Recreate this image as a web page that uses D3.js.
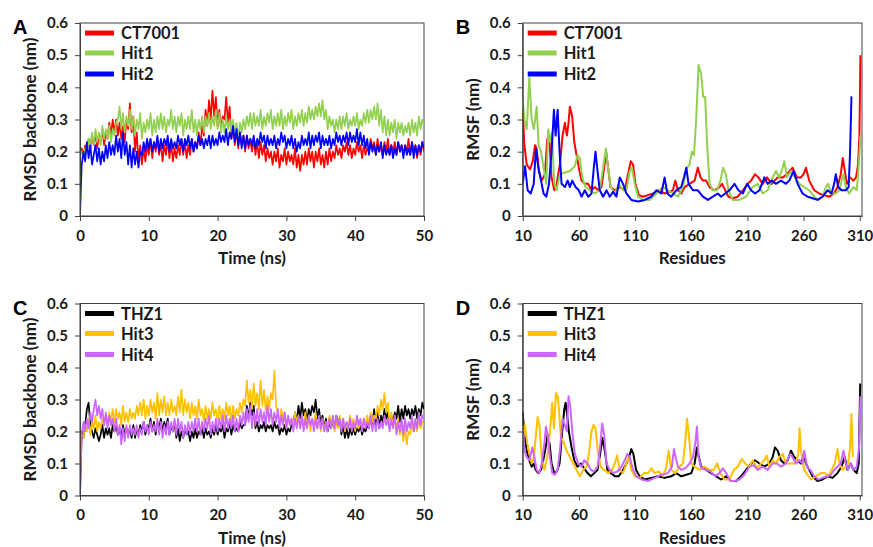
<!DOCTYPE html>
<html><head><meta charset="utf-8">
<script src="https://cdn.jsdelivr.net/npm/d3@7"></script>
<style>body{margin:0;background:#fff;} svg{display:block;}</style>
</head><body><svg id="c" width="873" height="547"></svg>
<script>
// ---------- DATA ----------
const rmsdTicksX = [0, 10, 20, 30, 40, 50];
const rmsfTicksX = [10, 60, 110, 160, 210, 260, 310];
const yTicks = [0, 0.1, 0.2, 0.3, 0.4, 0.5, 0.6];
const rmsdStep = 0.25; // ns between samples

const rmsdCT7001 = [
0.19,0.21,0.18,0.22, 0.20,0.24,0.21,0.25, 0.22,0.26,0.21,0.25, 0.23,0.27,0.22,0.26, 0.24,0.29,0.25,0.30,
0.26,0.30,0.25,0.29, 0.24,0.28,0.23,0.30, 0.27,0.35,0.26,0.31, 0.20,0.26,0.17,0.22, 0.16,0.21,0.17,0.22,
0.19,0.24,0.18,0.23, 0.20,0.24,0.19,0.23, 0.17,0.22,0.19,0.24, 0.18,0.23,0.17,0.21, 0.18,0.22,0.19,0.24,
0.19,0.23,0.18,0.22, 0.19,0.24,0.20,0.23, 0.21,0.26,0.22,0.28, 0.25,0.33,0.28,0.36, 0.30,0.39,0.31,0.37,
0.28,0.33,0.27,0.31, 0.30,0.37,0.29,0.34, 0.24,0.28,0.22,0.27, 0.21,0.26,0.22,0.25, 0.20,0.25,0.21,0.24,
0.20,0.24,0.19,0.23, 0.18,0.23,0.19,0.22, 0.17,0.21,0.18,0.20, 0.16,0.20,0.17,0.21, 0.15,0.19,0.17,0.21,
0.16,0.20,0.17,0.19, 0.16,0.21,0.15,0.19, 0.14,0.19,0.16,0.20, 0.16,0.21,0.17,0.20, 0.15,0.20,0.17,0.21,
0.16,0.19,0.15,0.20, 0.16,0.21,0.17,0.20, 0.18,0.22,0.19,0.21, 0.18,0.22,0.20,0.23, 0.19,0.22,0.18,0.21,
0.19,0.23,0.20,0.22, 0.18,0.22,0.19,0.21, 0.20,0.24,0.21,0.23, 0.19,0.24,0.20,0.22, 0.19,0.23,0.20,0.24,
0.19,0.22,0.20,0.23, 0.19,0.23,0.20,0.22, 0.19,0.22,0.20,0.24, 0.19,0.23,0.20,0.22, 0.18,0.22,0.19,0.23,
0.20];
const rmsdHit1 = [
0.19,0.20,0.18,0.21, 0.20,0.24,0.21,0.26, 0.22,0.27,0.23,0.26, 0.22,0.28,0.24,0.27, 0.24,0.28,0.23,0.27,
0.25,0.29,0.30,0.34, 0.27,0.32,0.26,0.31, 0.28,0.33,0.27,0.31, 0.25,0.30,0.27,0.32, 0.24,0.29,0.26,0.30,
0.27,0.32,0.25,0.30, 0.26,0.31,0.27,0.32, 0.27,0.31,0.26,0.30, 0.28,0.33,0.27,0.31, 0.26,0.31,0.28,0.32,
0.25,0.30,0.27,0.31, 0.27,0.33,0.26,0.30, 0.25,0.30,0.27,0.31, 0.26,0.31,0.28,0.32, 0.27,0.31,0.28,0.33,
0.27,0.32,0.26,0.30, 0.26,0.31,0.27,0.30, 0.26,0.30,0.25,0.29, 0.24,0.29,0.26,0.30, 0.27,0.31,0.28,0.32,
0.27,0.32,0.28,0.31, 0.28,0.33,0.27,0.31, 0.28,0.32,0.29,0.33, 0.27,0.31,0.28,0.32, 0.28,0.33,0.27,0.31,
0.28,0.32,0.29,0.33, 0.27,0.31,0.28,0.32, 0.29,0.33,0.28,0.32, 0.29,0.34,0.30,0.33, 0.30,0.34,0.31,0.35,
0.31,0.36,0.30,0.33, 0.27,0.31,0.28,0.30, 0.26,0.30,0.27,0.31, 0.27,0.31,0.28,0.32, 0.27,0.30,0.28,0.31,
0.28,0.32,0.27,0.30, 0.28,0.32,0.29,0.33, 0.29,0.33,0.30,0.34, 0.30,0.35,0.28,0.33, 0.26,0.31,0.25,0.30,
0.25,0.29,0.26,0.30, 0.24,0.29,0.26,0.29, 0.25,0.28,0.26,0.29, 0.25,0.30,0.26,0.29, 0.25,0.31,0.27,0.30,
0.28];
const rmsdHit2 = [
0.00,0.16,0.20,0.17, 0.23,0.18,0.22,0.16, 0.19,0.22,0.17,0.21, 0.16,0.20,0.17,0.22, 0.18,0.23,0.19,0.22,
0.19,0.25,0.20,0.24, 0.18,0.26,0.19,0.23, 0.16,0.22,0.15,0.21, 0.16,0.20,0.15,0.20, 0.19,0.23,0.20,0.24,
0.21,0.24,0.20,0.23, 0.21,0.25,0.20,0.24, 0.21,0.24,0.22,0.25, 0.20,0.24,0.21,0.23, 0.21,0.25,0.22,0.24,
0.20,0.24,0.22,0.25, 0.21,0.24,0.20,0.23, 0.21,0.25,0.22,0.24, 0.21,0.24,0.22,0.25, 0.21,0.25,0.22,0.24,
0.22,0.26,0.23,0.25, 0.23,0.27,0.22,0.26, 0.24,0.28,0.23,0.27, 0.22,0.26,0.21,0.25, 0.21,0.25,0.22,0.24,
0.22,0.25,0.21,0.24, 0.22,0.26,0.23,0.25, 0.21,0.25,0.22,0.24, 0.22,0.25,0.21,0.24, 0.22,0.26,0.23,0.25,
0.21,0.24,0.22,0.25, 0.21,0.24,0.20,0.23, 0.21,0.25,0.22,0.24, 0.22,0.26,0.21,0.25, 0.22,0.25,0.23,0.26,
0.21,0.25,0.22,0.24, 0.22,0.25,0.21,0.24, 0.22,0.26,0.23,0.25, 0.22,0.25,0.23,0.26, 0.22,0.26,0.23,0.25,
0.23,0.27,0.22,0.26, 0.22,0.25,0.21,0.24, 0.19,0.23,0.20,0.22, 0.19,0.22,0.20,0.23, 0.18,0.22,0.19,0.21,
0.19,0.22,0.18,0.21, 0.19,0.23,0.20,0.22, 0.18,0.22,0.19,0.21, 0.19,0.23,0.18,0.22, 0.19,0.22,0.20,0.23,
0.21];
const rmsdTHZ1 = [
0.00,0.20,0.18,0.22, 0.27,0.29,0.22,0.20, 0.18,0.21,0.19,0.17, 0.19,0.22,0.18,0.21, 0.19,0.21,0.18,0.22,
0.20,0.22,0.19,0.21, 0.18,0.22,0.19,0.21, 0.19,0.21,0.18,0.22, 0.18,0.21,0.19,0.22, 0.20,0.23,0.19,0.22,
0.21,0.24,0.20,0.23, 0.19,0.23,0.21,0.24, 0.20,0.23,0.21,0.24, 0.19,0.22,0.20,0.23, 0.18,0.21,0.17,0.20,
0.18,0.21,0.19,0.20, 0.17,0.20,0.18,0.21, 0.18,0.20,0.19,0.21, 0.18,0.21,0.19,0.20, 0.18,0.21,0.19,0.22,
0.19,0.21,0.20,0.22, 0.18,0.21,0.20,0.23, 0.19,0.22,0.20,0.21, 0.20,0.23,0.21,0.22, 0.22,0.28,0.24,0.29,
0.25,0.28,0.21,0.23, 0.20,0.22,0.21,0.23, 0.20,0.22,0.21,0.22, 0.20,0.23,0.21,0.22, 0.19,0.21,0.20,0.22,
0.19,0.21,0.20,0.22, 0.22,0.26,0.23,0.28, 0.24,0.29,0.25,0.27, 0.23,0.27,0.25,0.28, 0.26,0.30,0.24,0.27,
0.22,0.25,0.21,0.24, 0.20,0.23,0.21,0.24, 0.21,0.25,0.22,0.24, 0.19,0.22,0.18,0.21, 0.18,0.21,0.19,0.21,
0.19,0.21,0.20,0.22, 0.19,0.21,0.20,0.22, 0.21,0.25,0.22,0.27, 0.22,0.26,0.21,0.25, 0.23,0.27,0.24,0.26,
0.22,0.25,0.23,0.26, 0.24,0.28,0.23,0.27, 0.24,0.28,0.25,0.27, 0.24,0.27,0.25,0.28, 0.24,0.27,0.25,0.29,
0.27];
const rmsdHit3 = [
0.17,0.19,0.18,0.22, 0.20,0.24,0.19,0.23, 0.21,0.25,0.20,0.23, 0.21,0.24,0.22,0.25, 0.22,0.26,0.23,0.27,
0.23,0.27,0.24,0.26, 0.22,0.28,0.23,0.26, 0.23,0.27,0.24,0.26, 0.24,0.28,0.25,0.29, 0.25,0.30,0.24,0.28,
0.25,0.30,0.26,0.29, 0.24,0.32,0.25,0.30, 0.26,0.31,0.25,0.29, 0.25,0.30,0.26,0.28, 0.25,0.31,0.26,0.33,
0.25,0.30,0.26,0.29, 0.24,0.29,0.25,0.28, 0.24,0.30,0.25,0.27, 0.23,0.28,0.24,0.27, 0.24,0.29,0.25,0.27,
0.23,0.28,0.24,0.27, 0.24,0.29,0.25,0.28, 0.23,0.28,0.24,0.27, 0.25,0.29,0.26,0.30, 0.28,0.36,0.29,0.33,
0.27,0.35,0.28,0.32, 0.27,0.36,0.28,0.33, 0.26,0.31,0.27,0.32, 0.30,0.39,0.28,0.26, 0.23,0.27,0.24,0.26,
0.21,0.25,0.22,0.24, 0.22,0.26,0.23,0.25, 0.21,0.25,0.22,0.26, 0.21,0.25,0.20,0.24, 0.22,0.26,0.21,0.24,
0.20,0.24,0.21,0.23, 0.21,0.25,0.22,0.24, 0.20,0.23,0.21,0.25, 0.21,0.24,0.20,0.23, 0.21,0.25,0.22,0.24,
0.20,0.24,0.21,0.23, 0.21,0.24,0.22,0.25, 0.22,0.26,0.23,0.25, 0.24,0.28,0.25,0.30, 0.27,0.32,0.26,0.29,
0.22,0.26,0.21,0.25, 0.20,0.24,0.19,0.22, 0.17,0.21,0.16,0.20, 0.19,0.23,0.20,0.22, 0.20,0.24,0.21,0.23,
0.22];
const rmsdHit4 = [
0.00,0.19,0.23,0.20, 0.24,0.21,0.26,0.23, 0.27,0.30,0.25,0.28, 0.24,0.27,0.22,0.26, 0.21,0.25,0.22,0.24,
0.20,0.24,0.19,0.22, 0.16,0.21,0.17,0.22, 0.18,0.22,0.19,0.21, 0.19,0.22,0.18,0.21, 0.19,0.23,0.20,0.22,
0.19,0.23,0.20,0.22, 0.20,0.24,0.19,0.23, 0.18,0.22,0.19,0.23, 0.19,0.23,0.20,0.24, 0.19,0.24,0.20,0.23,
0.18,0.22,0.19,0.23, 0.19,0.23,0.20,0.24, 0.20,0.24,0.19,0.23, 0.20,0.24,0.21,0.25, 0.19,0.23,0.20,0.24,
0.20,0.24,0.21,0.25, 0.20,0.25,0.21,0.24, 0.21,0.25,0.20,0.24, 0.20,0.25,0.22,0.26, 0.22,0.27,0.23,0.28,
0.21,0.26,0.22,0.27, 0.22,0.27,0.23,0.26, 0.22,0.28,0.23,0.27, 0.22,0.26,0.23,0.27, 0.21,0.25,0.22,0.26,
0.21,0.25,0.22,0.24, 0.20,0.24,0.21,0.25, 0.21,0.25,0.20,0.24, 0.21,0.25,0.22,0.24, 0.20,0.24,0.21,0.25,
0.21,0.24,0.20,0.23, 0.20,0.24,0.21,0.25, 0.21,0.25,0.22,0.24, 0.20,0.24,0.21,0.23, 0.21,0.24,0.20,0.23,
0.21,0.25,0.22,0.24, 0.20,0.24,0.21,0.23, 0.21,0.25,0.20,0.24, 0.20,0.24,0.21,0.23, 0.21,0.25,0.22,0.24,
0.20,0.24,0.21,0.25, 0.19,0.23,0.20,0.24, 0.19,0.24,0.20,0.23, 0.21,0.25,0.20,0.24, 0.21,0.26,0.22,0.25,
0.24];

// RMSF: [residue, nm]
const rmsfCT7001 = [[10,0.33],[11.5,0.22],[13.6,0.16],[16.5,0.145],[18.9,0.17],[21,0.22],[22.4,0.21],[24.5,0.14],[26.9,0.11],[29.8,0.13],[31.9,0.24],[33.7,0.24],[35.7,0.12],[38.1,0.08],[40.2,0.1],[43.1,0.16],[45.5,0.25],[47.6,0.29],[49.3,0.25],[50.5,0.28],[52,0.34],[54,0.31],[55.9,0.23],[57.9,0.19],[60,0.15],[62.4,0.11],[65.3,0.1],[68.3,0.1],[71.2,0.08],[74.2,0.09],[77.2,0.08],[80.1,0.09],[82.5,0.15],[84.3,0.2],[86,0.15],[88.1,0.09],[92,0.08],[96.4,0.09],[100.8,0.08],[103.8,0.13],[106.2,0.17],[108.2,0.16],[110.3,0.1],[113.3,0.065],[117.1,0.06],[121.5,0.065],[126,0.07],[130.4,0.08],[136.3,0.07],[140.8,0.075],[143.7,0.08],[145.8,0.11],[148.2,0.08],[151.1,0.07],[154.1,0.09],[158.5,0.1],[163,0.11],[165.9,0.15],[168.3,0.12],[170.4,0.11],[173.3,0.11],[176.3,0.09],[180.7,0.08],[185.1,0.09],[187.5,0.1],[190.2,0.08],[193.1,0.06],[197,0.055],[201.4,0.06],[205.9,0.08],[210.3,0.1],[213.3,0.11],[216.8,0.13],[219.8,0.12],[223.6,0.1],[227.5,0.12],[231.6,0.1],[236.9,0.12],[241.4,0.12],[245.2,0.13],[250.2,0.15],[254.1,0.12],[257.6,0.12],[260,0.13],[262.1,0.15],[265,0.11],[269.5,0.08],[273.9,0.07],[278.4,0.065],[282.8,0.06],[287.2,0.07],[290.2,0.09],[293.1,0.13],[294.9,0.18],[296.7,0.14],[298.5,0.1],[301.4,0.12],[304.4,0.11],[306.7,0.12],[308.5,0.16],[309.7,0.25],[310.6,0.5]];
const rmsfHit1 = [[10,0.36],[11.5,0.3],[13.6,0.27],[15.9,0.43],[18,0.3],[20,0.27],[22.4,0.34],[24.2,0.22],[26.3,0.2],[28.6,0.15],[31,0.1],[32.8,0.27],[34.3,0.23],[36,0.26],[38.1,0.1],[40.2,0.08],[43.1,0.13],[47.6,0.135],[52,0.14],[56.4,0.155],[58.8,0.19],[60.9,0.18],[63,0.12],[65.9,0.09],[69.8,0.08],[74.2,0.07],[78.6,0.08],[81.6,0.15],[84,0.21],[86,0.15],[88.4,0.09],[92,0.07],[95.5,0.1],[99.3,0.08],[102.3,0.08],[105.3,0.14],[107.3,0.15],[109.7,0.1],[112.7,0.06],[117.1,0.05],[123,0.05],[128.9,0.07],[134.9,0.09],[139.3,0.08],[143.7,0.07],[148.2,0.06],[152.6,0.09],[156.2,0.15],[158.5,0.16],[160.6,0.2],[162.4,0.19],[164.4,0.3],[166.5,0.47],[168.9,0.44],[170.7,0.37],[172.4,0.37],[174.2,0.22],[176.3,0.1],[179.2,0.08],[183.1,0.08],[186,0.11],[188.4,0.15],[190.8,0.13],[193.1,0.08],[197,0.05],[202.9,0.05],[208.8,0.06],[214.7,0.09],[219.2,0.1],[223.6,0.07],[228,0.08],[232.5,0.12],[235.4,0.14],[238.4,0.12],[241.4,0.15],[242.8,0.17],[245.2,0.12],[248.8,0.14],[252.3,0.12],[256.2,0.1],[260.6,0.09],[265,0.08],[269.5,0.06],[273,0.05],[276.9,0.06],[279.8,0.09],[281.9,0.1],[284.3,0.07],[288.7,0.07],[291.7,0.08],[295.5,0.13],[297.6,0.09],[300.5,0.07],[304.4,0.09],[307.3,0.08],[309.4,0.17],[310.6,0.25]];
const rmsfHit2 = [[10,0.1],[12.1,0.155],[14.4,0.08],[17.1,0.07],[19.8,0.1],[21.8,0.21],[23.9,0.15],[26.3,0.11],[28.6,0.07],[31,0.06],[33.4,0.1],[35.7,0.2],[37.8,0.33],[39.3,0.25],[41.1,0.33],[42.8,0.2],[44.6,0.1],[47.6,0.09],[50,0.11],[52,0.09],[54.1,0.11],[57,0.09],[60,0.08],[62.4,0.06],[65.3,0.08],[68.3,0.06],[71.2,0.07],[73.3,0.15],[74.8,0.2],[76.6,0.14],[78.6,0.08],[81.6,0.06],[84.6,0.08],[87.5,0.06],[90.5,0.075],[93.4,0.06],[96.4,0.12],[99.3,0.1],[102.3,0.07],[106.7,0.05],[112.7,0.045],[118.6,0.05],[124.5,0.06],[128.9,0.08],[133.4,0.07],[136.3,0.12],[138.7,0.07],[142.2,0.06],[146.7,0.08],[151.1,0.09],[153.5,0.12],[155.6,0.15],[157.6,0.1],[161.5,0.08],[165.9,0.08],[170.4,0.06],[174.8,0.05],[179.2,0.06],[183.7,0.07],[186.6,0.06],[190.2,0.07],[194,0.08],[198.5,0.1],[202,0.08],[205.9,0.07],[209.7,0.1],[213.3,0.08],[216.8,0.07],[220.7,0.08],[225.1,0.12],[228,0.1],[231.6,0.11],[235.4,0.1],[239.9,0.11],[244.3,0.1],[247.3,0.11],[251.1,0.14],[254.7,0.1],[259.1,0.07],[263.5,0.06],[268,0.055],[272.4,0.05],[276.9,0.06],[281.3,0.08],[284.9,0.07],[287.2,0.1],[288.7,0.13],[290.8,0.09],[293.7,0.08],[297.6,0.08],[300.1,0.09],[301.4,0.2],[302.6,0.37],[303,0.37]];
const rmsfTHZ1 = [[10,0.26],[11.5,0.19],[13.6,0.14],[15.9,0.11],[18,0.09],[19.8,0.1],[21.5,0.08],[23.9,0.07],[26.3,0.08],[28.3,0.11],[30.4,0.15],[32.2,0.19],[34,0.16],[35.7,0.1],[38.1,0.07],[40.5,0.075],[42.8,0.1],[45.2,0.2],[47,0.27],[48.2,0.29],[49.6,0.25],[51.1,0.2],[53.5,0.15],[55.9,0.11],[58.8,0.09],[61.8,0.1],[64.7,0.085],[67.7,0.07],[70.7,0.06],[73.6,0.07],[76.6,0.08],[78.9,0.13],[81,0.18],[83.1,0.14],[85.4,0.08],[88.4,0.07],[92,0.06],[95.5,0.06],[99.3,0.08],[102.3,0.1],[104.7,0.12],[106.7,0.145],[108.5,0.13],[110.9,0.08],[114.1,0.06],[118.6,0.05],[124.5,0.055],[130.4,0.06],[136.3,0.055],[142.2,0.06],[146.7,0.07],[151.1,0.06],[155.6,0.065],[160.1,0.07],[163,0.1],[165.1,0.15],[166.8,0.12],[168.9,0.09],[173.3,0.08],[177.8,0.07],[182.2,0.06],[186.6,0.05],[191.1,0.06],[195.5,0.045],[199.9,0.045],[204.4,0.06],[208.8,0.08],[213.3,0.1],[216.8,0.11],[220.7,0.1],[225.1,0.09],[229.5,0.1],[232.5,0.12],[234.5,0.15],[236.9,0.14],[239.9,0.11],[242.8,0.1],[245.8,0.11],[248.8,0.14],[251.7,0.12],[254.7,0.11],[257.6,0.1],[260,0.13],[262.1,0.1],[265,0.08],[268,0.06],[272.4,0.045],[276.9,0.05],[281.3,0.06],[285.8,0.055],[290.2,0.07],[293.7,0.09],[296.7,0.12],[299.1,0.08],[302,0.1],[304.4,0.08],[307.3,0.07],[309.1,0.1],[310.4,0.35]];
const rmsfHit3 = [[10,0.16],[12.1,0.22],[13.8,0.17],[15.9,0.13],[18,0.1],[20,0.12],[21.8,0.19],[23.3,0.245],[24.8,0.22],[26.9,0.12],[29.2,0.08],[31.9,0.12],[34.3,0.2],[36.3,0.29],[37.8,0.21],[39.6,0.32],[41.1,0.31],[42.2,0.27],[44,0.18],[46.1,0.17],[49.1,0.14],[52,0.12],[55,0.1],[57.9,0.08],[60.9,0.06],[63.8,0.08],[66.8,0.09],[68.9,0.13],[71.2,0.2],[73,0.22],[74.8,0.21],[77.2,0.13],[79.5,0.09],[82.5,0.08],[86,0.07],[89.6,0.08],[92,0.1],[94,0.125],[96.4,0.08],[99.3,0.07],[102.3,0.1],[104.4,0.12],[106.7,0.08],[109.7,0.06],[114.1,0.055],[118,0.07],[121.5,0.07],[124.5,0.085],[127.5,0.07],[131,0.075],[134.9,0.06],[137.8,0.09],[139.9,0.14],[142.2,0.08],[145.8,0.07],[149.6,0.09],[152.6,0.1],[154.7,0.17],[156.2,0.24],[157.6,0.2],[160.1,0.1],[163,0.09],[167.4,0.08],[171.8,0.09],[176.3,0.08],[180.1,0.08],[183.1,0.1],[186,0.07],[189.6,0.05],[194,0.05],[197.9,0.08],[201.4,0.09],[205,0.115],[207.9,0.1],[211.7,0.09],[214.7,0.11],[218.6,0.085],[222.1,0.1],[225.1,0.11],[227.2,0.125],[229.5,0.09],[232.5,0.11],[235.4,0.1],[238.4,0.12],[241.4,0.13],[244.3,0.1],[248.8,0.1],[253.2,0.1],[255.3,0.13],[256.5,0.21],[257.6,0.14],[260.6,0.08],[263.5,0.065],[266.5,0.05],[270.9,0.06],[275.4,0.07],[278.9,0.07],[281.9,0.06],[284.9,0.08],[287.8,0.1],[290.2,0.145],[292,0.1],[294.6,0.08],[297.6,0.09],[299.6,0.1],[301.4,0.15],[302.6,0.255],[303.8,0.12]];
const rmsfHit4 = [[10,0.22],[11.5,0.14],[13.6,0.12],[15.9,0.11],[18.6,0.15],[20.4,0.12],[22.4,0.08],[24.8,0.07],[26.9,0.1],[29.2,0.16],[30.7,0.215],[32.2,0.19],[34.3,0.12],[36.3,0.07],[38.7,0.065],[41.1,0.08],[43.4,0.15],[45.5,0.24],[47.6,0.22],[49.3,0.2],[50.8,0.31],[52.3,0.28],[54.1,0.2],[56.4,0.13],[59.4,0.1],[62.4,0.09],[64.7,0.11],[67.7,0.1],[70.7,0.08],[73.6,0.075],[76.6,0.09],[78.9,0.15],[80.7,0.225],[82.5,0.19],[84.6,0.1],[87.5,0.08],[90.5,0.07],[94.3,0.075],[97.9,0.09],[100.8,0.11],[103.2,0.13],[105.3,0.12],[108.2,0.08],[111.2,0.06],[115.6,0.05],[121.5,0.045],[127.5,0.055],[133.4,0.065],[139.3,0.07],[142.8,0.09],[144.6,0.145],[146.1,0.12],[148.2,0.09],[151.1,0.08],[154.7,0.085],[158.5,0.1],[161.5,0.12],[163.5,0.16],[165.1,0.215],[166.5,0.12],[168.9,0.085],[173.3,0.08],[177.2,0.075],[181.3,0.06],[185.1,0.07],[188.1,0.085],[191.1,0.07],[194.9,0.045],[198.5,0.045],[202.9,0.05],[207.3,0.065],[211.7,0.09],[215.6,0.095],[219.2,0.08],[223.6,0.09],[228,0.08],[232.5,0.1],[236.3,0.1],[239.9,0.09],[244.3,0.1],[248.2,0.13],[250.2,0.12],[253.2,0.1],[256.2,0.11],[259.1,0.1],[260.6,0.14],[263,0.09],[266,0.08],[269.5,0.06],[273,0.05],[276.9,0.055],[280.8,0.06],[284.3,0.065],[287.2,0.08],[290.2,0.09],[293.1,0.1],[295.5,0.14],[297.6,0.1],[299.6,0.08],[302,0.1],[304.4,0.08],[307.3,0.09],[309.4,0.15],[310.6,0.31]];

const colors = {CT7001:'#ff0000', Hit1:'#92d050', Hit2:'#0000ff', THZ1:'#000000', Hit3:'#ffc000', Hit4:'#cc66ff'};

// ---------- DRAW ----------
const svg = d3.select('#c');
const timePts = arr => arr.map((v,i) => [i*rmsdStep, v]);

const panels = [
  {letter:'A', x0:80, x1:424, y0:23, y1:216, xDomain:[0,50], xTicks:rmsdTicksX, xTitle:'Time (ns)', yTitle:'RMSD backbone (nm)', lw:1.7,
   series:[['CT7001',timePts(rmsdCT7001)],['Hit1',timePts(rmsdHit1)],['Hit2',timePts(rmsdHit2)]]},
  {letter:'B', x0:522.7, x1:862, y0:23, y1:216, xDomain:[10,312], xTicks:rmsfTicksX, xTitle:'Residues', yTitle:'RMSF (nm)', lw:2,
   series:[['CT7001',rmsfCT7001],['Hit1',rmsfHit1],['Hit2',rmsfHit2]]},
  {letter:'C', x0:80, x1:424, y0:303.5, y1:495.5, xDomain:[0,50], xTicks:rmsdTicksX, xTitle:'Time (ns)', yTitle:'RMSD backbone (nm)', lw:1.7,
   series:[['THZ1',timePts(rmsdTHZ1)],['Hit3',timePts(rmsdHit3)],['Hit4',timePts(rmsdHit4)]]},
  {letter:'D', x0:522.7, x1:862, y0:303.5, y1:495.5, xDomain:[10,312], xTicks:rmsfTicksX, xTitle:'Residues', yTitle:'RMSF (nm)', lw:2,
   series:[['THZ1',rmsfTHZ1],['Hit3',rmsfHit3],['Hit4',rmsfHit4]]}
];

const tickFont = 'Lato, "Open Sans", sans-serif';
const axisColor = '#404040';
const textColor = '#1a1a1a';

panels.forEach((p, pi) => {
  const x = d3.scaleLinear().domain(p.xDomain).range([p.x0, p.x1]);
  const y = d3.scaleLinear().domain([0, 0.6]).range([p.y1, p.y0]);
  const g = svg.append('g');

  const clipId = 'clip' + pi;
  svg.append('clipPath').attr('id', clipId).append('rect')
    .attr('x', p.x0).attr('y', p.y0 - 2).attr('width', p.x1 - p.x0).attr('height', p.y1 - p.y0 + 2);

  g.append('rect').attr('x', p.x0).attr('y', p.y0).attr('width', p.x1 - p.x0).attr('height', p.y1 - p.y0)
    .attr('fill', 'none').attr('stroke', axisColor).attr('stroke-width', 1);

  const line = d3.line().x(d => x(d[0])).y(d => y(d[1]));
  const sg = g.append('g').attr('clip-path', `url(#${clipId})`);
  p.series.forEach(([name, pts]) => {
    sg.append('path').datum(pts).attr('d', line)
      .attr('fill', 'none').attr('stroke', colors[name]).attr('stroke-width', p.lw)
      .attr('stroke-linejoin', 'round');
  });

  const yAxis = d3.axisLeft(y).tickValues(yTicks).tickSize(5).tickSizeOuter(0)
    .tickFormat(d => d === 0 ? '0' : d3.format('.1f')(d));
  const ya = g.append('g').attr('transform', `translate(${p.x0},0)`).call(yAxis);
  const xAxis = d3.axisBottom(x).tickValues(p.xTicks).tickSize(5).tickSizeOuter(0).tickFormat(d3.format('d'));
  const xa = g.append('g').attr('transform', `translate(0,${p.y1})`).call(xAxis);
  [ya, xa].forEach(a => {
    a.select('.domain').attr('stroke', axisColor);
    a.selectAll('.tick line').attr('stroke', axisColor);
    a.selectAll('.tick text').attr('font-family', tickFont).attr('font-weight', 700)
      .attr('font-size', 15).attr('fill', textColor);
  });
  ya.selectAll('.tick text').attr('x', -12);
  xa.selectAll('.tick text').attr('y', 14);

  g.append('text').attr('x', (p.x0 + p.x1) / 2).attr('y', p.y1 + 48)
    .attr('text-anchor', 'middle').attr('font-family', tickFont).attr('font-weight', 700)
    .attr('font-size', 17).attr('fill', textColor).text(p.xTitle);
  g.append('text').attr('transform', `translate(${p.x0 - 48},${(p.y0 + p.y1) / 2}) rotate(-90)`)
    .attr('text-anchor', 'middle').attr('dominant-baseline', 'middle')
    .attr('font-family', tickFont).attr('font-weight', 700)
    .attr('font-size', 17).attr('fill', textColor).text(p.yTitle);

  g.append('text').attr('x', p.x0 - 67).attr('y', p.y0 + 11)
    .attr('font-family', '"Liberation Sans", Arial, sans-serif').attr('font-weight', 700)
    .attr('font-size', 20).attr('fill', '#000').text(p.letter);

  const legOff = [10, 30, 51];
  p.series.forEach(([name], i) => {
    const ly = p.y0 + legOff[i];
    g.append('line').attr('x1', p.x0 + 5).attr('x2', p.x0 + 34).attr('y1', ly).attr('y2', ly)
      .attr('stroke', colors[name]).attr('stroke-width', 5);
    g.append('text').attr('x', p.x0 + 41).attr('y', ly).attr('dominant-baseline', 'central')
      .attr('font-family', tickFont).attr('font-weight', 700).attr('font-size', 16.5)
      .attr('fill', textColor).text(name);
  });
});
</script>
</body></html>
